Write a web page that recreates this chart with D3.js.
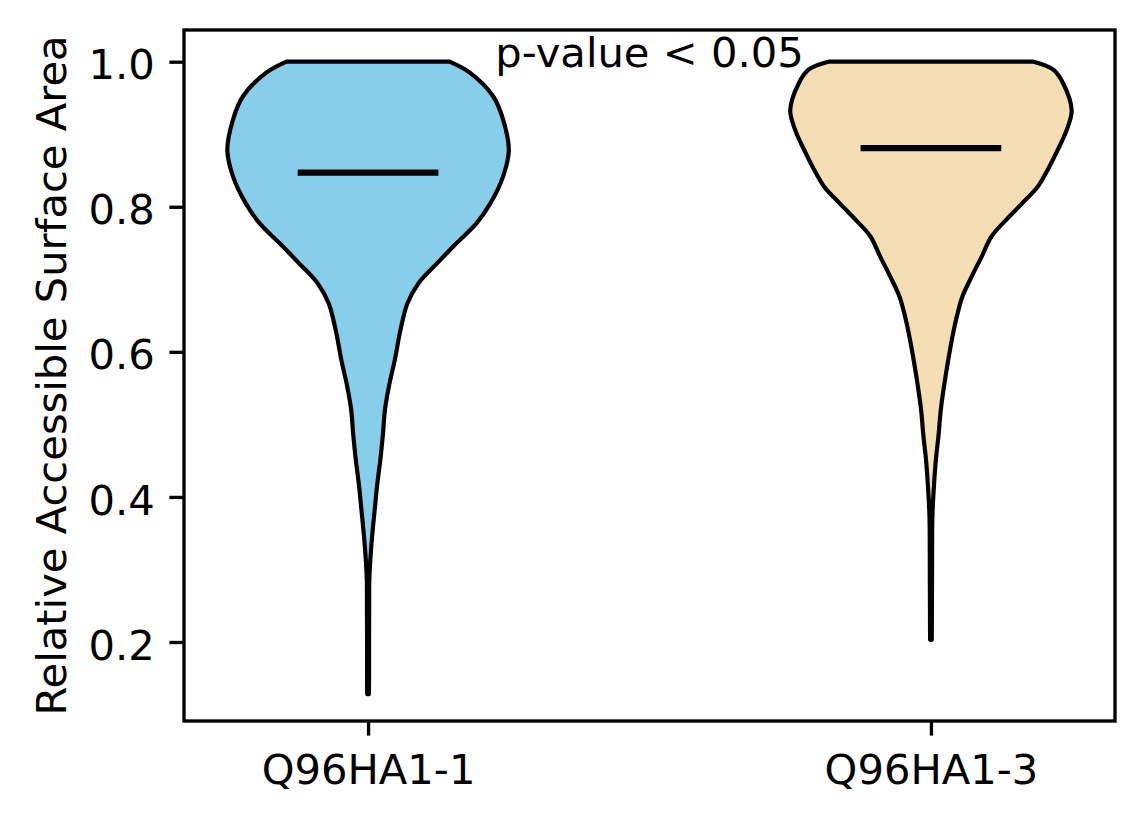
<!DOCTYPE html>
<html>
<head>
<meta charset="utf-8">
<script src="https://cdn.jsdelivr.net/npm/d3@7"></script>
<style>
    body { margin: 0; background: #fff; }
    svg { display: block; }
</style>
</head>
<body>
<svg id="chart" width="1144" height="824"></svg>
<script>
// groups
const categories = ["Q96HA1-1", "Q96HA1-3"];
const positions = [1, 2];
const colors = ["#87CEEB", "#F5DEB3"];
const means = [0.847, 0.881];

// kde profile: value -> relative density (1 = widest)
const valuesA = [1.0, 0.984, 0.952, 0.920, 0.878, 0.842, 0.805, 0.777, 0.750, 0.722, 0.695, 0.667, 0.630, 0.589,
    0.554, 0.520, 0.485, 0.451, 0.417, 0.382, 0.348, 0.313, 0.286, 0.25, 0.2, 0.15, 0.128];
const densityA = [0.58, 0.73, 0.89, 0.96, 1.0, 0.96, 0.87, 0.77, 0.63, 0.49, 0.36, 0.28, 0.23, 0.19,
    0.15, 0.12, 0.105, 0.087, 0.065, 0.047, 0.03, 0.016, 0.009, 0.008, 0.007, 0.007, 0.006];

const valuesB = [1.0, 0.989, 0.970, 0.933, 0.906, 0.878, 0.851, 0.828, 0.805, 0.782, 0.759, 0.731, 0.704, 0.676,
    0.648, 0.621, 0.589, 0.554, 0.520, 0.485, 0.451, 0.417, 0.382, 0.359, 0.3, 0.25, 0.203];
const densityB = [0.73, 0.87, 0.94, 1.0, 0.965, 0.90, 0.83, 0.76, 0.65, 0.535, 0.43, 0.36, 0.29, 0.223,
    0.183, 0.153, 0.123, 0.094, 0.07, 0.054, 0.035, 0.022, 0.012, 0.009, 0.008, 0.007, 0.006];

const yTicks = [0.2, 0.4, 0.6, 0.8, 1.0];
const yLabel = "Relative Accessible Surface Area";
const annotation = "p-value < 0.05";

const fontSize = 41.67; // 10pt @ 300dpi
const lw = 3.33;        // 0.8pt
const tickLen = 14.6;
const tickPad = 14.6;

const plot = { left: 184, right: 1115, top: 30, bottom: 721 };

const svg = d3.select("#chart")
    .style("font-family", "'DejaVu Sans', sans-serif");

const x = d3.scaleLinear()
    .domain([1 - 0.327, 2 + 0.327])
    .range([plot.left, plot.right]);

const y = d3.scaleLinear()
    .domain([0.0911, 1.0437])
    .range([plot.bottom, plot.top]);

// half violin width is 0.25 in x units (matplotlib widths=0.5)
const halfWidth = d3.scaleLinear().domain([0, 1]).range([0, 0.25]);

const violins = [
    { values: valuesA, density: densityA },
    { values: valuesB, density: densityB }
];

violins.forEach((v, i) => {
    const pts = v.values.map((val, j) => [val, v.density[j]]);
    const pos = positions[i];

    const area = d3.area()
        .curve(d3.curveCatmullRom.alpha(0.5))
        .y(d => y(d[0]))
        .x0(d => x(pos - halfWidth(d[1])))
        .x1(d => x(pos + halfWidth(d[1])));

    svg.append("path")
        .attr("d", area(pts))
        .attr("fill", colors[i])
        .attr("stroke", "#000")
        .attr("stroke-width", 4.17)
        .attr("stroke-linejoin", "round");

    // mean line
    svg.append("line")
        .attr("x1", x(pos - 0.125))
        .attr("x2", x(pos + 0.125))
        .attr("y1", y(means[i]))
        .attr("y2", y(means[i]))
        .attr("stroke", "#000")
        .attr("stroke-width", 6.25);
});

// frame
svg.append("rect")
    .attr("x", plot.left)
    .attr("y", plot.top)
    .attr("width", plot.right - plot.left)
    .attr("height", plot.bottom - plot.top)
    .attr("fill", "none")
    .attr("stroke", "#000")
    .attr("stroke-width", lw);

// y axis
const yAxis = svg.append("g")
    .attr("transform", `translate(${plot.left},0)`)
    .call(d3.axisLeft(y).tickValues(yTicks).tickFormat(d3.format(".1f"))
        .tickSize(tickLen).tickPadding(tickPad));
yAxis.select(".domain").remove();
yAxis.selectAll(".tick line").attr("stroke-width", lw);
yAxis.selectAll(".tick text")
    .attr("font-size", fontSize)
    .attr("font-family", "'DejaVu Sans', sans-serif")
    .attr("fill", "#000")
    .attr("dy", "0.41em");

// x axis
const xAxis = svg.append("g")
    .attr("transform", `translate(0,${plot.bottom})`)
    .call(d3.axisBottom(x).tickValues(positions).tickFormat((d, i) => categories[i])
        .tickSize(tickLen).tickPadding(tickPad));
xAxis.select(".domain").remove();
xAxis.selectAll(".tick line").attr("stroke-width", lw);
xAxis.selectAll(".tick text")
    .attr("font-size", fontSize)
    .attr("font-family", "'DejaVu Sans', sans-serif")
    .attr("fill", "#000")
    .attr("dy", "0.82em");

// y label
svg.append("text")
    .attr("transform", `translate(66,${(plot.top + plot.bottom) / 2}) rotate(-90)`)
    .attr("text-anchor", "middle")
    .attr("font-size", fontSize)
    .attr("fill", "#000")
    .text(yLabel);

// annotation between the two violins
svg.append("text")
    .attr("x", x(1.5))
    .attr("y", y(1.0) + 5.5)
    .attr("text-anchor", "middle")
    .attr("font-size", fontSize)
    .attr("fill", "#000")
    .text(annotation);
</script>
</body>
</html>
